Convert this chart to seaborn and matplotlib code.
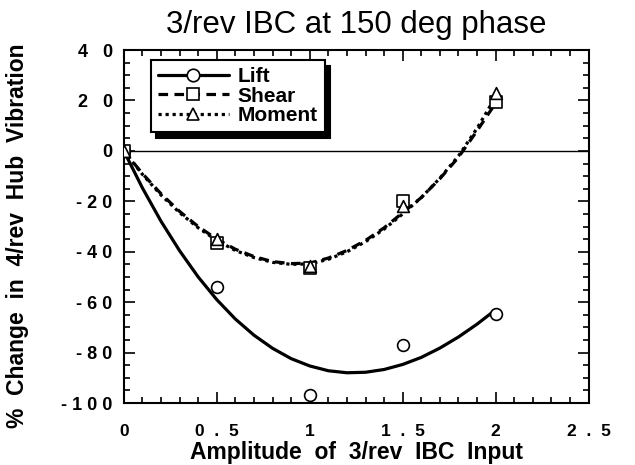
import matplotlib
matplotlib.use("Agg")
import matplotlib.pyplot as plt
from matplotlib.lines import Line2D
from matplotlib.ticker import MultipleLocator
import seaborn as sns
import pandas as pd

# measured data points
pt_x = [0, 0.5, 1.0, 1.5, 2.0]
lift_pts = [0, -54, -97, -77, -64.5]
shear_pts = [0, -36.6, -46.5, -19.7, 19.6]
moment_pts = [0, -35, -45.7, -21.8, 23]

# fitted curves
curve_x = [0, 0.1, 0.2, 0.3, 0.4, 0.5, 0.6, 0.7, 0.8, 0.9, 1.0,
           1.1, 1.2, 1.3, 1.4, 1.5, 1.6, 1.7, 1.8, 1.9, 2.0]
lift_curve = [0, -14.7, -27.9, -39.6, -50.0, -59.0, -66.7, -73.1, -78.3, -82.4, -85.3,
              -87.2, -88.0, -87.8, -86.7, -84.7, -81.9, -78.2, -73.8, -68.7, -63.0]
shear_curve = [0, -9.0, -17.0, -24.0, -30.0, -35.0, -39.0, -41.9, -43.9, -44.7, -44.5,
               -42.5, -39.5, -35.5, -30.5, -24.5, -18.5, -11.0, -2.5, 8.0, 19.0]
moment_curve = [0, -9.3, -17.5, -24.5, -30.5, -35.5, -39.5, -42.3, -44.2, -45.0, -44.8,
                -43.0, -40.0, -36.0, -31.0, -25.0, -18.5, -10.8, -2.0, 9.0, 21.5]

xtick_vals = [0, 0.5, 1, 1.5, 2, 2.5]
xtick_labels = ["0", "0  .  5", "1", "1  .  5", "2", "2  .  5"]
ytick_vals = [-100, -80, -60, -40, -20, 0, 20, 40]
ytick_labels = ["- 1 0 0", "- 8 0", "- 6 0", "- 4 0", "- 2 0", "0", "2   0", "4   0"]

sns.set_theme(style="ticks")
plt.rcParams['font.family'] = ['Liberation Sans', 'DejaVu Sans']
plt.rcParams.update({"text.color": "black", "axes.labelcolor": "black",
                     "xtick.color": "black", "ytick.color": "black"})

fig = plt.figure(figsize=(6.35, 4.65), dpi=100)
ax = fig.add_axes([0.195, 0.1333, 0.732, 0.759])

curves = pd.DataFrame({"x": curve_x, "lift": lift_curve, "shear": shear_curve, "moment": moment_curve})
pts = pd.DataFrame({"x": pt_x, "lift": lift_pts, "shear": shear_pts, "moment": moment_pts})

ax.axhline(0, color="black", lw=1.0, zorder=1)

LW = 2.3
DASH = (0, (3, 2))
DOT = (0, (1, 1.2))
sns.lineplot(data=curves, x="x", y="lift", ax=ax, color="black", lw=LW, linestyle="-")
sns.lineplot(data=curves, x="x", y="shear", ax=ax, color="black", lw=LW, linestyle=DASH)
sns.lineplot(data=curves, x="x", y="moment", ax=ax, color="black", lw=LW, linestyle=DOT)

mk = dict(s=72, facecolor="white", edgecolor="black", linewidth=1.2, zorder=5)
sns.scatterplot(data=pts, x="x", y="lift", ax=ax, marker="o", **mk)
sns.scatterplot(data=pts, x="x", y="shear", ax=ax, marker="s", **mk)
sns.scatterplot(data=pts, x="x", y="moment", ax=ax, marker="^", **mk)

ax.set_xlim(0, 2.5)
ax.set_ylim(-100, 40)
ax.set_xticks(xtick_vals)
ax.set_xticklabels(xtick_labels, fontsize=12.5, fontweight="bold")
ax.set_yticks(ytick_vals)
ax.set_yticklabels(ytick_labels, fontsize=13, fontweight="bold")
ax.xaxis.set_minor_locator(MultipleLocator(0.1))
ax.yaxis.set_minor_locator(MultipleLocator(5))
ax.tick_params(which="both", direction="in", top=True, right=True, color="black", width=1.2)
ax.tick_params(which="major", length=8)
ax.tick_params(which="minor", length=4)
ax.tick_params(axis="x", which="major", pad=15)
ax.tick_params(axis="y", which="major", pad=8)
for s in ax.spines.values():
    s.set_color("black")
    s.set_linewidth(1.5)

ax.set_xlabel("Amplitude  of  3/rev  IBC  Input", fontsize=16.5, fontweight="bold", va="center")
ax.xaxis.set_label_coords(0.5, -0.139)
ax.set_ylabel("%  Change  in  4/rev  Hub  Vibration", fontsize=16.5, fontweight="bold", va="center")
ax.yaxis.set_label_coords(-0.228, 0.475)
ax.set_title("3/rev IBC at 150 deg phase", fontsize=22.5, pad=12, color="black")

def handle(ls, m):
    return Line2D([], [], color="black", lw=LW, linestyle=ls, marker=m, markersize=9,
                  markerfacecolor="white", markeredgecolor="black", markeredgewidth=1.2)

handles = [handle("-", "o"), handle(DASH, "s"), handle(DOT, "^")]
leg = ax.legend(handles, ["Lift", "Shear", "Moment"], loc="upper left",
                bbox_to_anchor=(0.058, 0.972), frameon=True, fancybox=False,
                shadow={"color": "black", "alpha": 1, "ox": 4, "oy": -4},
                prop={"weight": "bold", "size": 15}, handlelength=3.4,
                handletextpad=0.4, labelspacing=0.02, borderpad=0.35,
                borderaxespad=0, numpoints=1)
leg.get_frame().set_edgecolor("black")
leg.get_frame().set_linewidth(1.5)
leg.get_frame().set_alpha(1)

fig.savefig("out.png", dpi=100)
